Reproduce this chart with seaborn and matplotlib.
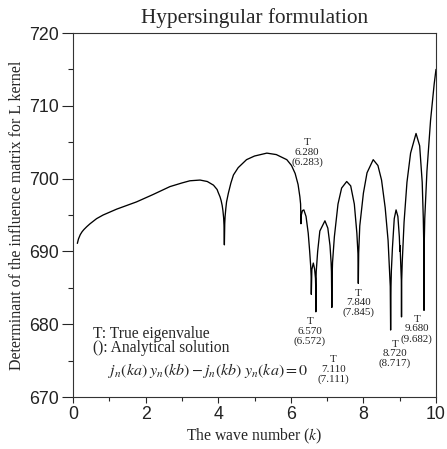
import matplotlib
matplotlib.use("Agg")
import matplotlib.pyplot as plt
import seaborn as sns
import pandas as pd
from matplotlib.ticker import MultipleLocator

# Data
wave_number = [
    0.12, 0.15, 0.2, 0.25, 0.3, 0.38, 0.47, 0.65, 0.83, 1.2, 1.75, 2.2, 2.67, 3.0, 3.22, 3.5, 3.7,
    3.87, 3.97, 4.0, 4.05, 4.08, 4.11, 4.13, 4.15, 4.16, 4.17, 4.18, 4.19, 4.21, 4.23, 4.25, 4.28,
    4.35, 4.42, 4.55, 4.78, 5.0, 5.34, 5.6, 5.89, 6.02, 6.12, 6.2, 6.25, 6.27, 6.28, 6.29, 6.32, 6.36,
    6.42, 6.48, 6.52, 6.55, 6.56, 6.565, 6.575, 6.58, 6.62, 6.655, 6.68, 6.685, 6.69, 6.695, 6.70,
    6.74, 6.8, 6.94, 7.02, 7.08, 7.11, 7.12, 7.13, 7.14, 7.15, 7.2, 7.3, 7.4, 7.54, 7.65, 7.75,
    7.82, 7.85, 7.855, 7.86, 7.865, 7.87, 7.9, 8.0, 8.1, 8.27, 8.4, 8.5, 8.6, 8.68, 8.72, 8.74, 8.75,
    8.76, 8.77, 8.8, 8.85, 8.90, 8.95, 8.99, 9.0, 9.005, 9.01, 9.03, 9.045, 9.05, 9.055, 9.07, 9.12,
    9.2, 9.3, 9.45, 9.55, 9.62, 9.65, 9.665, 9.67, 9.675, 9.69, 9.75, 9.85, 9.95, 10.0,
]
determinant = [
    691.1, 691.7, 692.3, 692.7, 693.0, 693.4, 693.8, 694.5, 695.0, 695.8, 696.8, 697.8, 698.9, 699.4, 699.7, 699.8, 699.6,
    699.1, 698.5, 698.1, 697.5, 697.0, 696.3, 695.6, 694.6, 693.6, 690.9, 693.8, 694.8, 695.9, 696.8, 697.3, 698.0,
    699.4, 700.5, 701.5, 702.6, 703.1, 703.5, 703.3, 702.6, 701.8, 700.7, 699.2, 697.5, 696.5, 693.8, 695.0, 695.6, 695.7,
    694.8, 692.5, 690.0, 687.8, 686.6, 684.1, 686.6, 687.5, 688.4, 687.6, 686.3, 685.4, 681.7, 685.8, 687.2,
    690.0, 692.8, 694.2, 693.2, 690.8, 688.5, 687.2, 682.3, 686.8, 688.5, 692.0, 696.5, 698.7, 699.6, 699.0, 696.5,
    692.5, 689.7, 688.4, 685.6, 688.6, 689.8, 693.5, 698.0, 700.8, 702.6, 701.8, 699.8, 696.0, 691.5, 687.5, 685.2, 679.2,
    685.2, 687.3, 690.5, 694.5, 695.7, 694.8, 692.0, 690.6, 690.0, 690.8, 688.0, 686.0, 681.0, 686.0, 688.5, 694.0,
    699.5, 703.5, 706.2, 704.5, 699.5, 694.5, 690.5, 681.9, 690.8, 694.5, 701.0, 708.0, 713.0, 715.0,
]

label_k = [6.45, 6.53, 7.17, 7.86, 8.87, 9.47]
label_v = [703.6, 679.0, 673.8, 682.9, 675.9, 679.3]
true_vals = ["6.280", "6.570", "7.110", "7.840", "8.720", "9.680"]
analytic_vals = ["6.283", "6.572", "7.111", "7.845", "8.717", "9.682"]

df = pd.DataFrame({"k": wave_number, "det": determinant})

sns.set_style("ticks")
plt.rcParams["font.family"] = ["Liberation Serif", "DejaVu Serif"]
plt.rcParams["mathtext.fontset"] = "stix"

fig = plt.figure(figsize=(4.47, 4.49), dpi=100)
ax = fig.add_axes([73 / 447, 1 - 397 / 449, (436 - 73) / 447, (397 - 33) / 449])

sns.lineplot(data=df, x="k", y="det", ax=ax, sort=False, estimator=None,
             color="black", linewidth=0.95)

ax.set_xlim(0, 10)
ax.set_ylim(670, 720)
ax.xaxis.set_major_locator(MultipleLocator(2))
ax.xaxis.set_minor_locator(MultipleLocator(1))
ax.yaxis.set_major_locator(MultipleLocator(10))
ax.yaxis.set_minor_locator(MultipleLocator(5))
ax.tick_params(axis="y", which="major", direction="out", length=8, width=0.8, pad=2)
ax.tick_params(axis="y", which="minor", direction="out", length=3.8, width=0.8)
ax.tick_params(axis="x", which="major", direction="out", length=4.5, width=0.8, pad=2)
ax.tick_params(axis="x", which="minor", direction="out", length=2.8, width=0.8)
for lab in ax.get_xticklabels() + ax.get_yticklabels():
    lab.set_fontfamily("Liberation Sans")
    lab.set_fontsize(12.8)
    lab.set_color("#222222")
for sp in ax.spines.values():
    sp.set_linewidth(0.8)
    sp.set_color("#333333")

ax.set_xlabel("The wave number ($k$)", fontsize=11.3, labelpad=3)
ax.set_ylabel("Determinant of the influence matrix for L kernel", fontsize=11.5, labelpad=3)
ax.set_title("Hypersingular formulation", fontsize=15.3, pad=7)

for x, y, t, a in zip(label_k, label_v, true_vals, analytic_vals):
    ax.text(x, y, f"T\n{t}\n({a})", ha="center", va="center", fontsize=7.9,
            linespacing=1.08, color="#222222")

ax.text(0.56, 678.7, "T: True eigenvalue", fontsize=11.2, va="center", ha="left")
ax.text(0.56, 676.7, "(): Analytical solution", fontsize=11.2, va="center", ha="left")
ax.text(0.97, 673.7, r"$j_n(ka)\;y_n(kb) - j_n(kb)\;y_n(ka) = 0$", fontsize=11.5,
        va="center", ha="left")

fig.savefig("out.png", dpi=100)
